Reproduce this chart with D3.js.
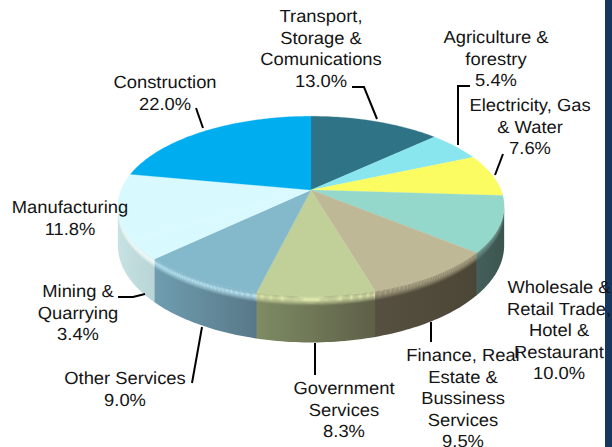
<!DOCTYPE html>
<html>
<head>
<meta charset="utf-8">
<script src="https://cdn.jsdelivr.net/npm/d3@7"></script>
<style>
    html, body { margin: 0; padding: 0; background: #fff; }
    svg { display: block; }
    text { font-family: "Liberation Sans", Arial, sans-serif; font-size: 17.5px; fill: #141414; text-rendering: geometricPrecision; }
</style>
</head>
<body>
<div id="chart"></div>
<script>
// chart values, clockwise from 12 o'clock
const sectors = ["Transport", "Agriculture", "Electricity", "Wholesale", "Finance", "Government", "Other", "Mining", "Manufacturing", "Construction"];
const shares = [13.0, 5.4, 7.6, 10.0, 9.5, 8.3, 9.0, 3.4, 11.8, 22.0];
const labels = [
    ["Transport,", "Storage &", "Comunications", "13.0%"],
    ["Agriculture &", "forestry", "5.4%"],
    ["Electricity, Gas", "& Water", "7.6%"],
    ["Wholesale &", "Retail Trade,", "Hotel &", "Restaurant", "10.0%"],
    ["Finance, Real", "Estate &", "Bussiness", "Services", "9.5%"],
    ["Government", "Services", "8.3%"],
    ["Other Services", "9.0%"],
    ["Mining &", "Quarrying", "3.4%"],
    ["Manufacturing", "11.8%"],
    ["Construction", "22.0%"]
];

// styles per sector
const topColors = ["#2e7386", "#8ae6ee", "#fbfb62", "#94d8cc", "#bfb896", "#c0d098", "#84b9cc", "#d8fafe", "#d8fafe", "#00aeef"];
const glowColors = ["#2e7386", "#8ae6ee", "#fbfb62", "#6f908a", "#aaa284", "#dfe8ae", "#bde8f5", "#fbffff", "#fbffff", "#00aeef"];
const wallLeft = ["#2e7386", "#8ae6ee", "#fbfb62", "#44605c", "#565040", "#7e8c64", "#6f9eb0", "#c0dcdc", "#c8e2e2", "#00aeef"];
const wallRight = ["#2e7386", "#8ae6ee", "#fbfb62", "#3c5450", "#4c4636", "#5e6048", "#587888", "#b8d4d6", "#c0dcdc", "#00aeef"];

// label placement: [x centre, first baseline], leader points run from the label to the pie
const labelPos = [[321, 22], [496, 43], [530, 111], [559, 293], [463, 361], [344, 394], [125, 384], [78, 297], [70, 213], [165, 88]];
const leaders = [
    [[352, 87], [364, 87], [377, 119]],
    [[470, 86], [458, 86], [458, 145]],
    [[503, 154], [495, 175]],
    [],
    [[431, 322], [431, 342]],
    [[315, 343], [315, 375]],
    [[202, 327], [192, 383]],
    [[118, 297], [133, 297], [145, 294]],
    [],
    [[196, 108], [203, 128]]
];

const width = 612, height = 447;
const cx = 311, cy = 190, radiusX = 190, radiusY = 87, persp = 0.18;
const bevel = 8, depth = 38;
const lineGap = 21.6, stretch = 1.05;

const svg = d3.select("#chart").append("svg")
    .attr("width", width)
    .attr("height", height);

const defs = svg.append("defs");

// dark band on the right side of the slide
svg.append("rect")
    .attr("x", 605).attr("y", 0)
    .attr("width", 7).attr("height", height)
    .attr("fill", "#17375e");

const pie = d3.pie().sort(null).value(d => d);
const arcs = pie(shares);

// perspective disc: the far side shrinks, the near side grows
function rim(a, drop) {
    const s = 1 / (1 + persp * Math.cos(a));
    return [cx + radiusX * Math.sin(a) * s, cy - radiusY * Math.cos(a) * s + drop * s];
}

function samples(a0, a1) {
    const n = Math.max(2, Math.ceil((a1 - a0) / 0.02));
    return d3.range(n + 1).map(i => a0 + (a1 - a0) * i / n);
}

const line = d3.line();

function band(a0, a1, d0, d1) {
    const as = samples(a0, a1);
    return line(as.map(a => rim(a, d0)).concat(as.slice().reverse().map(a => rim(a, d1)))) + "Z";
}

// only the part of the rim facing the viewer has a wall
const frontStart = Math.acos(-persp);
const frontEnd = 2 * Math.PI - frontStart;

const walls = svg.append("g");
const bevels = svg.append("g");
const faces = svg.append("g");

arcs.forEach(function(d, i) {
    const a0 = Math.max(d.startAngle, frontStart);
    const a1 = Math.min(d.endAngle, frontEnd);
    if (a1 <= a0) return;

    const grad = defs.append("linearGradient").attr("id", "wall" + i);
    grad.append("stop").attr("offset", "0%").attr("stop-color", wallLeft[i]);
    grad.append("stop").attr("offset", "100%").attr("stop-color", wallRight[i]);

    walls.append("path")
        .attr("d", band(a0, Math.min(a1 + 0.006, frontEnd), 0, depth))
        .attr("fill", "url(#wall" + i + ")");

    // bevel between the face and the wall, fading out into the wall
    const steps = 10;
    const tone = d3.scaleLinear().domain([0, 0.35, 1]).range([topColors[i], glowColors[i], glowColors[i]]);
    const fade = d3.scaleLinear().domain([0, 0.4, 1]).range([1, 1, 0]);
    d3.range(steps).forEach(function(k) {
        bevels.append("path")
            .attr("d", band(a0, Math.min(a1 + 0.004, frontEnd), bevel * k / steps, bevel * (k + 1) / steps))
            .attr("fill", tone((k + 0.5) / steps))
            .attr("fill-opacity", fade((k + 0.5) / steps));
    });
});

// top face
faces.selectAll("path")
    .data(arcs)
    .enter()
    .append("path")
    .attr("d", d => {
        const pts = samples(d.startAngle, d.endAngle).map(a => rim(a, 0));
        return line([[cx, cy]].concat(pts)) + "Z";
    })
    .attr("fill", (d, i) => topColors[i])
    .attr("stroke", (d, i) => topColors[i])
    .attr("stroke-width", 0.3);

// leader lines
svg.append("g").selectAll("path")
    .data(leaders.filter(l => l.length))
    .enter()
    .append("path")
    .attr("d", d => line(d))
    .attr("fill", "none")
    .attr("stroke", "#000")
    .attr("stroke-width", 2);

// labels
const labelG = svg.append("g");
labels.forEach(function(lines, i) {
    const t = labelG.append("text")
        .attr("text-anchor", "middle")
        .attr("transform", `translate(${labelPos[i][0]},${labelPos[i][1]}) scale(${stretch},1)`);
    lines.forEach(function(s, j) {
        t.append("tspan")
            .attr("x", 0)
            .attr("dy", j ? lineGap : 0)
            .text(s);
    });
});
</script>
</body>
</html>
